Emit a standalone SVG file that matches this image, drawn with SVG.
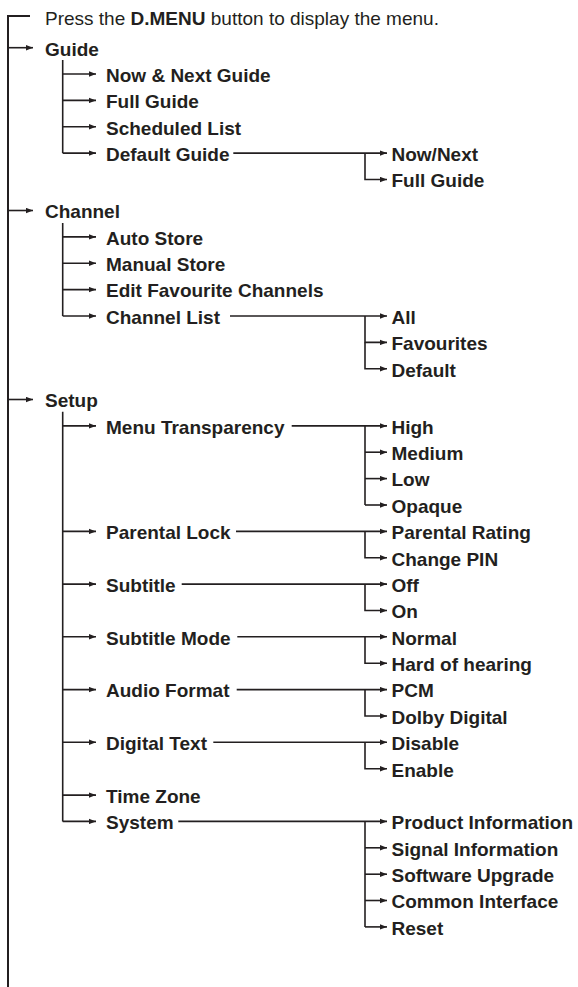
<svg xmlns="http://www.w3.org/2000/svg" width="578" height="987" viewBox="0 0 578 987">
<style>
text{font-family:"Liberation Sans",Arial,sans-serif;font-size:19px;fill:#231f20;font-weight:bold}
.reg{font-weight:normal}
.ln{fill:none;stroke:#231f20;stroke-width:1.6}
.ar{marker-end:url(#ah)}
.main{fill:none;stroke:#231f20;stroke-width:2}
</style>
<defs>
<marker id="ah" markerWidth="7" markerHeight="6" refX="7" refY="3" orient="auto" markerUnits="userSpaceOnUse"><path d="M0,0.3 L7,3 L0,5.7 Z" fill="#231f20"/></marker>
</defs>
<rect width="578" height="987" fill="#ffffff"/>
<g id="connectors">
<path class="main" d="M30,16 H8 V987"/>
<path class="ln ar" d="M8,47.7 H33"/>
<path class="ln ar" d="M8,210.5 H33"/>
<path class="ln ar" d="M8,399.5 H33"/>
<path class="ln" d="M62.7,60 V153.1"/>
<path class="ln ar" d="M62.7,74 H96"/>
<path class="ln ar" d="M62.7,100.4 H96"/>
<path class="ln ar" d="M62.7,126.7 H96"/>
<path class="ln ar" d="M62.7,153.1 H96"/>
<path class="ln ar" d="M233.3,153.1 H387"/>
<path class="ln ar" d="M365,153.1 V179.5 H387"/>
<path class="ln" d="M62.7,223 V316"/>
<path class="ln ar" d="M62.7,236.9 H96"/>
<path class="ln ar" d="M62.7,263.3 H96"/>
<path class="ln ar" d="M62.7,289.6 H96"/>
<path class="ln ar" d="M62.7,316 H96"/>
<path class="ln ar" d="M230,316 H387"/>
<path class="ln ar" d="M365,316 V342.4 H387"/>
<path class="ln ar" d="M365,342.4 V368.7 H387"/>
<path class="ln" d="M62.7,411.7 V821.4"/>
<path class="ln ar" d="M62.7,425.9 H96"/>
<path class="ln ar" d="M62.7,531.4 H96"/>
<path class="ln ar" d="M62.7,584.1 H96"/>
<path class="ln ar" d="M62.7,636.8 H96"/>
<path class="ln ar" d="M62.7,689.6 H96"/>
<path class="ln ar" d="M62.7,742.3 H96"/>
<path class="ln ar" d="M62.7,795.1 H96"/>
<path class="ln ar" d="M62.7,821.4 H96"/>
<path class="ln ar" d="M291.7,425.9 H387"/>
<path class="ln" d="M365,425.9 V505"/>
<path class="ln ar" d="M365,452.2 H387"/>
<path class="ln ar" d="M365,478.6 H387"/>
<path class="ln ar" d="M365,505 H387"/>
<path class="ln ar" d="M236,531.4 H387"/>
<path class="ln ar" d="M365,531.4 V557.7 H387"/>
<path class="ln ar" d="M181.7,584.1 H387"/>
<path class="ln ar" d="M365,584.1 V610.5 H387"/>
<path class="ln ar" d="M237.3,636.8 H387"/>
<path class="ln ar" d="M365,636.8 V663.2 H387"/>
<path class="ln ar" d="M236.7,689.6 H387"/>
<path class="ln ar" d="M365,689.6 V716 H387"/>
<path class="ln ar" d="M213.3,742.3 H387"/>
<path class="ln ar" d="M365,742.3 V768.7 H387"/>
<path class="ln ar" d="M178.3,821.4 H387"/>
<path class="ln" d="M365,821.4 V926.9"/>
<path class="ln ar" d="M365,847.8 H387"/>
<path class="ln ar" d="M365,874.2 H387"/>
<path class="ln ar" d="M365,900.5 H387"/>
<path class="ln ar" d="M365,926.9 H387"/>
</g>
<g id="intro"><text class="reg" x="45" y="24.5">Press the <tspan font-weight="bold">D.MENU</tspan> button to display the menu.</text></g>
<g id="guide"><text x="45" y="55.5">Guide</text></g>
<g id="now-next-guide"><text x="106" y="81.8">Now &amp; Next Guide</text></g>
<g id="full-guide"><text x="106" y="108.2">Full Guide</text></g>
<g id="scheduled-list"><text x="106" y="134.5">Scheduled List</text></g>
<g id="default-guide"><text x="106" y="160.9">Default Guide</text></g>
<g id="dg-now-next"><text x="391.5" y="160.9">Now/Next</text></g>
<g id="dg-full-guide"><text x="391.5" y="187.3">Full Guide</text></g>
<g id="channel"><text x="45" y="218.3">Channel</text></g>
<g id="auto-store"><text x="106" y="244.7">Auto Store</text></g>
<g id="manual-store"><text x="106" y="271.1">Manual Store</text></g>
<g id="edit-favourite"><text x="106" y="297.4">Edit Favourite Channels</text></g>
<g id="channel-list"><text x="106" y="323.8">Channel List</text></g>
<g id="cl-all"><text x="391.5" y="323.8">All</text></g>
<g id="cl-favourites"><text x="391.5" y="350.2">Favourites</text></g>
<g id="cl-default"><text x="391.5" y="376.5">Default</text></g>
<g id="setup"><text x="45" y="407.3">Setup</text></g>
<g id="menu-transparency"><text x="106" y="433.7">Menu Transparency</text></g>
<g id="mt-high"><text x="391.5" y="433.7">High</text></g>
<g id="mt-medium"><text x="391.5" y="460">Medium</text></g>
<g id="mt-low"><text x="391.5" y="486.4">Low</text></g>
<g id="mt-opaque"><text x="391.5" y="512.8">Opaque</text></g>
<g id="parental-lock"><text x="106" y="539.2">Parental Lock</text></g>
<g id="pl-rating"><text x="391.5" y="539.2">Parental Rating</text></g>
<g id="pl-pin"><text x="391.5" y="565.5">Change PIN</text></g>
<g id="subtitle"><text x="106" y="591.9">Subtitle</text></g>
<g id="st-off"><text x="391.5" y="591.9">Off</text></g>
<g id="st-on"><text x="391.5" y="618.3">On</text></g>
<g id="subtitle-mode"><text x="106" y="644.6">Subtitle Mode</text></g>
<g id="sm-normal"><text x="391.5" y="644.6">Normal</text></g>
<g id="sm-hard"><text x="391.5" y="671">Hard of hearing</text></g>
<g id="audio-format"><text x="106" y="697.4">Audio Format</text></g>
<g id="af-pcm"><text x="391.5" y="697.4">PCM</text></g>
<g id="af-dolby"><text x="391.5" y="723.8">Dolby Digital</text></g>
<g id="digital-text"><text x="106" y="750.1">Digital Text</text></g>
<g id="dt-disable"><text x="391.5" y="750.1">Disable</text></g>
<g id="dt-enable"><text x="391.5" y="776.5">Enable</text></g>
<g id="time-zone"><text x="106" y="802.9">Time Zone</text></g>
<g id="system"><text x="106" y="829.2">System</text></g>
<g id="sys-product"><text x="391.5" y="829.2">Product Information</text></g>
<g id="sys-signal"><text x="391.5" y="855.6">Signal Information</text></g>
<g id="sys-software"><text x="391.5" y="882">Software Upgrade</text></g>
<g id="sys-ci"><text x="391.5" y="908.3">Common Interface</text></g>
<g id="sys-reset"><text x="391.5" y="934.7">Reset</text></g>
</svg>
